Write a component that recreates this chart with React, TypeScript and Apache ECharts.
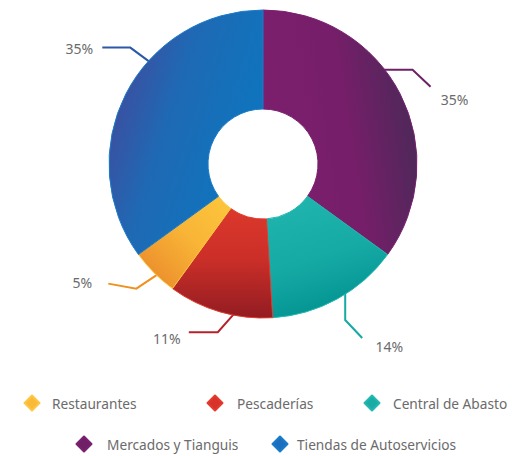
import React, { useEffect, useRef } from "react";
import * as echarts from "echarts";

// ---- data ----
const categories = [
  "Mercados y Tianguis",
  "Central de Abasto",
  "Pescaderías",
  "Restaurantes",
  "Tiendas de Autoservicios",
];
const values = [35, 14, 11, 5, 35];
const legendOrder = [
  "Restaurantes",
  "Pescaderías",
  "Central de Abasto",
  "Mercados y Tianguis",
  "Tiendas de Autoservicios",
];

// ---- styles ----
const CX = 263;
const CY = 164;
const R_IN = 55;
const R_OUT = 154;
const TEXT_COLOR = "#6b6b6b";

type Grad = [number, number, number, number, [number, string][]];
const sliceGrad: Record<string, Grad> = {
  "Mercados y Tianguis": [0, 0.6, 1, 0.35, [[0, "#7c1f6e"], [0.55, "#761e69"], [1, "#4a2958"]]],
  "Central de Abasto": [0.3, 0, 0.6, 1, [[0, "#1fb4ae"], [0.5, "#16aaa5"], [1, "#00908e"]]],
  "Pescaderías": [0.5, 0, 0.5, 1, [[0, "#db382b"], [0.45, "#cc2f28"], [1, "#921c22"]]],
  "Restaurantes": [1, 0, 0, 1, [[0, "#fdc73d"], [0.45, "#f8b436"], [1, "#e8832a"]]],
  "Tiendas de Autoservicios": [0, 0.3, 0.8, 0.7, [[0, "#414a9c"], [0.45, "#1f69b4"], [1, "#0f74bd"]]],
};
const sliceBorder: Record<string, string> = {
  "Mercados y Tianguis": "#7a2070",
  "Central de Abasto": "#22b8b1",
  "Pescaderías": "#e23a2c",
  "Restaurantes": "#fcc844",
  "Tiendas de Autoservicios": "#1a7cc8",
};
const legendColor: Record<string, string> = {
  "Mercados y Tianguis": "#6e1f66",
  "Central de Abasto": "#1aaba5",
  "Pescaderías": "#d7332a",
  "Restaurantes": "#fbb93a",
  "Tiendas de Autoservicios": "#1a6fc0",
};
const lineColor: Record<string, string> = {
  "Mercados y Tianguis": "#6e1f66",
  "Central de Abasto": "#17a9a3",
  "Pescaderías": "#b5222a",
  "Restaurantes": "#f0901f",
  "Tiendas de Autoservicios": "#2c58a8",
};
// guide line: start angle (deg clockwise from top), knee & end offsets from start, label offset from end
const guides: Record<string, { a: number; knee: [number, number]; end: [number, number]; txt: [number, number] }> = {
  "Mercados y Tianguis": { a: 52, knee: [29, 0], end: [47, 17], txt: [24, 13] },
  "Central de Abasto": { a: 147.5, knee: [0, 27], end: [17, 45], txt: [27, 8] },
  "Pescaderías": { a: 191, knee: [-16, 18], end: [-45, 18], txt: [-22, 6] },
  "Restaurantes": { a: 223.7, knee: [-21, 14], end: [-49, 9], txt: [-26, -1] },
  "Tiendas de Autoservicios": { a: 312, knee: [-19, -14], end: [-47, -14], txt: [-23, 1] },
};
// legend placement: icon centre x, text start x, row centre y
const legendPos: Record<string, [number, number, number]> = {
  "Restaurantes": [31, 51, 403],
  "Pescaderías": [214, 236, 403],
  "Central de Abasto": [371, 392, 403],
  "Mercados y Tianguis": [83, 106, 444],
  "Tiendas de Autoservicios": [279, 296, 444],
};
const ICON = 15;
const FONT = "'Noto Sans', 'Open Sans', sans-serif";

export default function App() {
  const ref = useRef<HTMLDivElement>(null);
  useEffect(() => {
    if (!ref.current) return;
    const chart = echarts.init(ref.current, null, { renderer: "svg" });

    const data = categories.map((name, i) => {
      const g = sliceGrad[name];
      return {
        name,
        value: values[i],
        itemStyle: {
          color: new echarts.graphic.LinearGradient(g[0], g[1], g[2], g[3], g[4].map(([offset, color]) => ({ offset, color }))),
          borderColor: sliceBorder[name],
          borderWidth: 1,
        },
        labelLine: { lineStyle: { color: lineColor[name], width: 2 } },
      };
    });

    const legends = legendOrder.map((name) => {
      const [ix, tx, y] = legendPos[name];
      const left = ix - ICON / 2;
      const pad = tx - left - ICON - 5;
      return {
        show: true,
        left,
        top: y - 9,
        orient: "horizontal",
        icon: "diamond",
        itemWidth: ICON,
        itemHeight: ICON,
        padding: 0,
        selectedMode: false,
        data: [{ name, itemStyle: { color: legendColor[name] } }],
        textStyle: {
          color: TEXT_COLOR,
          fontSize: 13.7,
          fontFamily: FONT,
          padding: [0, 0, 0, pad],
          lineHeight: 18,
        },
      };
    });

    chart.setOption({
      animation: false,
      backgroundColor: "#ffffff",
      legend: legends,
      series: [
        {
          type: "pie",
          center: [CX, CY],
          radius: [R_IN, R_OUT],
          startAngle: 90,
          clockwise: true,
          avoidLabelOverlap: false,
          data,
          label: {
            show: true,
            position: "outside",
            formatter: "{c}%",
            color: TEXT_COLOR,
            fontSize: 14,
            fontFamily: FONT,
          },
          labelLine: { show: true, length: 10, length2: 10 },
          labelLayout: (params: any) => {
            const name = categories[params.dataIndex];
            const g = guides[name];
            const rad = (g.a * Math.PI) / 180;
            const r = R_OUT - 1;
            const sx = CX + r * Math.sin(rad);
            const sy = CY - r * Math.cos(rad);
            const kx = sx + g.knee[0];
            const ky = sy + g.knee[1];
            const ex = sx + g.end[0];
            const ey = sy + g.end[1];
            return {
              x: ex + g.txt[0],
              y: ey + g.txt[1],
              align: "center",
              verticalAlign: "middle",
              labelLinePoints: [
                [sx, sy],
                [kx, ky],
                [ex, ey],
              ],
            };
          },
        },
      ],
    });
    return () => chart.dispose();
  }, []);
  return <div ref={ref} style={{ position: "absolute", left: 0, top: 0, width: 516, height: 456 }} />;
}
